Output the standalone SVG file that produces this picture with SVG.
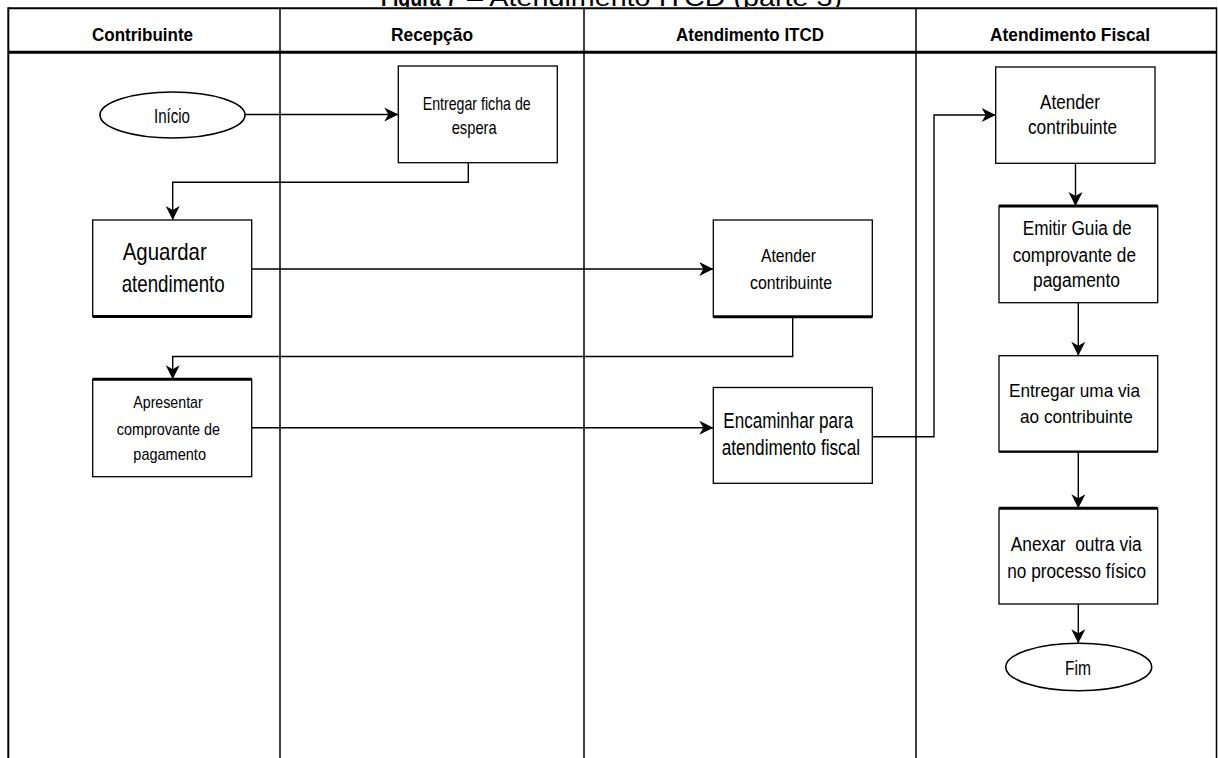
<svg xmlns="http://www.w3.org/2000/svg" width="1218" height="758" viewBox="0 0 1218 758">
  <style>
    .t { font-family: "Liberation Sans", Arial, Helvetica, sans-serif; fill: #000; }
    .hd { font-weight: bold; font-size: 19px; }
    .lane { stroke: #000; stroke-width: 1.5; fill: none; }
    .frame { stroke: #000; stroke-width: 2; fill: none; }
    .box { fill: #fff; stroke: #000; stroke-width: 1.3; }
    .term { fill: #fff; stroke: #000; stroke-width: 1.6; }
    .edge { stroke: #000; stroke-width: 3; fill: none; }
    .conn { fill: none; stroke: #000; stroke-width: 1.4; marker-end: url(#arrow); }
  </style>
  <defs>
    <marker id="arrow" markerUnits="userSpaceOnUse" viewBox="-16 -9 17 18" markerWidth="17" markerHeight="18" refX="0" refY="0" orient="auto">
      <path d="M0,0 L-14,-7 L-10,0 L-14,7 Z" fill="#000"/>
    </marker>
    <clipPath id="captionClip">
      <rect x="0" y="-40" width="1218" height="47"/>
    </clipPath>
  </defs>

  <rect width="1218" height="758" fill="#fff"/>

  <!-- caption above the table (cut at the top edge) -->
  <g id="caption" clip-path="url(#captionClip)">
    <text class="t" x="381" y="5.5" font-size="24" font-weight="bold" textLength="76" lengthAdjust="spacingAndGlyphs">Figura 7</text>
    <text class="t" x="467" y="5.5" font-size="24" textLength="375" lengthAdjust="spacingAndGlyphs">– Atendimento ITCD (parte 3)</text>
  </g>

  <!-- swimlane table -->
  <g id="lanes">
    <line class="frame" x1="8.3" y1="8.3" x2="1217" y2="8.3"/>
    <line class="frame" x1="8.3" y1="7.3" x2="8.3" y2="758"/>
    <line class="lane" x1="1216.5" y1="8" x2="1216.5" y2="758"/>
    <line x1="8" y1="52.3" x2="1217" y2="52.3" stroke="#000" stroke-width="3"/>
    <line class="lane" x1="280" y1="8" x2="280" y2="758"/>
    <line class="lane" x1="584" y1="8" x2="584" y2="758"/>
    <line class="lane" x1="916" y1="8" x2="916" y2="758"/>
    <text class="t hd" x="92" y="40.5" textLength="101" lengthAdjust="spacingAndGlyphs">Contribuinte</text>
    <text class="t hd" x="391" y="40.5" textLength="82" lengthAdjust="spacingAndGlyphs">Recepção</text>
    <text class="t hd" x="676" y="40.5" textLength="148" lengthAdjust="spacingAndGlyphs">Atendimento ITCD</text>
    <text class="t hd" x="990" y="40.5" textLength="160" lengthAdjust="spacingAndGlyphs">Atendimento Fiscal</text>
  </g>

  <!-- connectors -->
  <g id="connectors">
    <path class="conn" d="M245,114.5 H398.3"/>
    <path class="conn" d="M468.3,162.7 V182.3 H172.7 V220"/>
    <path class="conn" d="M245,269 H713.3"/>
    <path class="conn" d="M792.7,318 V356.5 H172.7 V379.3"/>
    <path class="conn" d="M251.7,427.7 H713.3"/>
    <path class="conn" d="M872.3,436.7 H934 V115 H995.7"/>
    <path class="conn" d="M1075.5,163.3 V206"/>
    <path class="conn" d="M1078.3,302.7 V355.7"/>
    <path class="conn" d="M1078.3,451.7 V508.3"/>
    <path class="conn" d="M1078.3,604 V643.3"/>
  </g>

  <!-- Contribuinte lane -->
  <g id="inicio">
    <ellipse class="term" cx="172.5" cy="115" rx="72.5" ry="23"/>
    <text class="t" x="154" y="122.7" font-size="20" textLength="36" lengthAdjust="spacingAndGlyphs">Início</text>
  </g>

  <g id="aguardar">
    <rect class="box" x="92.7" y="220" width="159" height="96.5"/>
    <line class="edge" x1="92.7" y1="316.5" x2="251.7" y2="316.5"/>
    <text class="t" x="122.7" y="260" font-size="24" textLength="84" lengthAdjust="spacingAndGlyphs">Aguardar</text>
    <text class="t" x="121.7" y="291.7" font-size="24" textLength="103" lengthAdjust="spacingAndGlyphs">atendimento</text>
  </g>

  <g id="apresentar">
    <rect class="box" x="92.7" y="379.3" width="159" height="97.4"/>
    <line class="edge" x1="92.7" y1="379.3" x2="251.7" y2="379.3"/>
    <text class="t" x="133.3" y="408.3" font-size="17" textLength="69.4" lengthAdjust="spacingAndGlyphs">Apresentar</text>
    <text class="t" x="116.7" y="435" font-size="17" textLength="103.3" lengthAdjust="spacingAndGlyphs">comprovante de</text>
    <text class="t" x="133.3" y="459.5" font-size="17" textLength="72.7" lengthAdjust="spacingAndGlyphs">pagamento</text>
  </g>

  <!-- Recepção lane -->
  <g id="entregar-ficha">
    <rect class="box" x="398.3" y="66" width="159" height="96.7"/>
    <text class="t" x="422.7" y="110" font-size="19" textLength="108" lengthAdjust="spacingAndGlyphs">Entregar ficha de</text>
    <text class="t" x="451.7" y="134" font-size="19" textLength="45" lengthAdjust="spacingAndGlyphs">espera</text>
  </g>

  <!-- Atendimento ITCD lane -->
  <g id="atender-itcd">
    <rect class="box" x="713.3" y="220" width="159" height="96.8"/>
    <line class="edge" x1="713.3" y1="316.8" x2="872.3" y2="316.8"/>
    <text class="t" x="761" y="262.3" font-size="19" textLength="55" lengthAdjust="spacingAndGlyphs">Atender</text>
    <text class="t" x="750" y="289.3" font-size="19" textLength="82" lengthAdjust="spacingAndGlyphs">contribuinte</text>
  </g>

  <g id="encaminhar">
    <rect class="box" x="713.3" y="387.5" width="159" height="95.8"/>
    <text class="t" x="723.3" y="428.3" font-size="22" textLength="130" lengthAdjust="spacingAndGlyphs">Encaminhar para</text>
    <text class="t" x="721.7" y="455" font-size="22" textLength="138.3" lengthAdjust="spacingAndGlyphs">atendimento fiscal</text>
  </g>

  <!-- Atendimento Fiscal lane -->
  <g id="atender-fiscal">
    <rect class="box" x="995.7" y="67" width="159.3" height="96.3"/>
    <text class="t" x="1040" y="109.3" font-size="20" textLength="60" lengthAdjust="spacingAndGlyphs">Atender</text>
    <text class="t" x="1028" y="134" font-size="20" textLength="89" lengthAdjust="spacingAndGlyphs">contribuinte</text>
  </g>

  <g id="emitir-guia">
    <rect class="box" x="999" y="206" width="158.7" height="96.7"/>
    <line class="edge" x1="999" y1="206" x2="1157.7" y2="206"/>
    <text class="t" x="1022.7" y="235" font-size="20" textLength="109" lengthAdjust="spacingAndGlyphs">Emitir Guia de</text>
    <text class="t" x="1012.7" y="261.7" font-size="20" textLength="123.3" lengthAdjust="spacingAndGlyphs">comprovante de</text>
    <text class="t" x="1033" y="286.5" font-size="20" textLength="87" lengthAdjust="spacingAndGlyphs">pagamento</text>
  </g>

  <g id="entregar-via">
    <rect class="box" x="999" y="355.7" width="158.7" height="96"/>
    <line x1="999" y1="451.7" x2="1157.7" y2="451.7" stroke="#000" stroke-width="2.2"/>
    <text class="t" x="1009" y="396.7" font-size="19" textLength="131" lengthAdjust="spacingAndGlyphs">Entregar uma via</text>
    <text class="t" x="1020" y="422.7" font-size="19" textLength="112.7" lengthAdjust="spacingAndGlyphs">ao contribuinte</text>
  </g>

  <g id="anexar-via">
    <rect class="box" x="999" y="508.3" width="158.7" height="95.7"/>
    <line class="edge" x1="999" y1="508.3" x2="1157.7" y2="508.3"/>
    <text class="t" x="1010.7" y="550.7" font-size="20" textLength="131" lengthAdjust="spacingAndGlyphs" xml:space="preserve">Anexar  outra via</text>
    <text class="t" x="1007.3" y="578.3" font-size="20" textLength="138.7" lengthAdjust="spacingAndGlyphs">no processo físico</text>
  </g>

  <g id="fim">
    <ellipse class="term" cx="1078.7" cy="667" rx="73" ry="23.7"/>
    <text class="t" x="1065" y="675" font-size="21" textLength="26" lengthAdjust="spacingAndGlyphs">Fim</text>
  </g>
</svg>
